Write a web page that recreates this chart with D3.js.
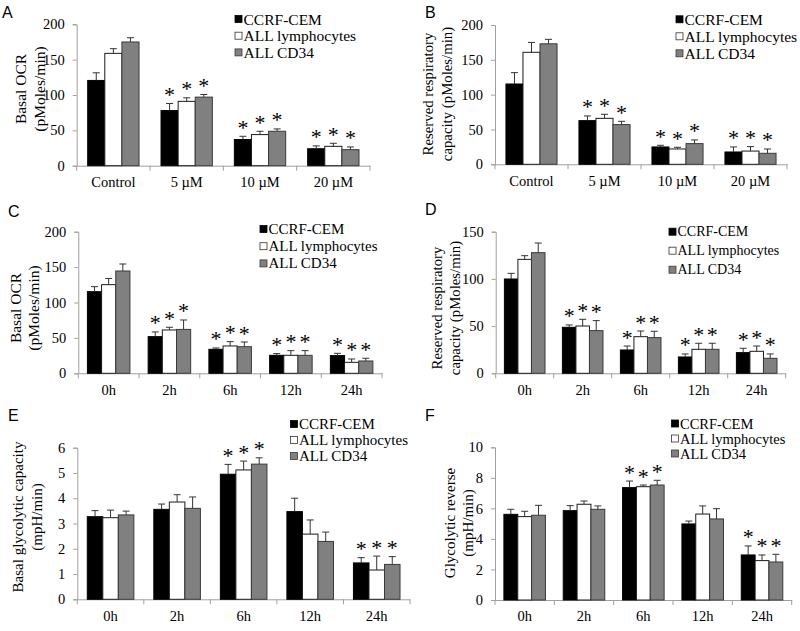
<!DOCTYPE html>
<html><head><meta charset="utf-8">
<script src="https://cdn.jsdelivr.net/npm/d3@7"></script>
<style>body{margin:0;background:#fff}svg{display:block}</style>
</head><body>
<svg id="c" width="800" height="631"></svg>
<script>
// ---------- data ----------
const seriesNames = ["CCRF-CEM", "ALL lymphocytes", "ALL CD34"];
const doseCats = ["Control", "5 \u00b5M", "10 \u00b5M", "20 \u00b5M"];
const timeCats = ["0h", "2h", "6h", "12h", "24h"];

// Panel A: Basal OCR vs dose
const aMean = [[120.6, 78, 37, 24], [158.9, 91, 44, 27.4], [175, 97, 48.7, 22.7]];
const aErr  = [[10.8, 10, 4.6, 4], [6.6, 5, 4.7, 4.3], [6, 3.7, 3.3, 3.8]];
const aStar = [[0, 1, 1, 1], [0, 1, 1, 1], [0, 1, 1, 1]];
// Panel B: Reserved respiratory capacity vs dose
const bMean = [[115.3, 62.7, 24.9, 17.7], [160.8, 66, 22, 19], [173, 57, 29.7, 15.8]];
const bErr  = [[16.3, 6.7, 2.4, 7.2], [14.2, 5.8, 2.4, 6.4], [6.4, 4.7, 5.3, 6.2]];
const bStar = [[0, 1, 1, 1], [0, 1, 1, 1], [0, 1, 1, 1]];
// Panel C: Basal OCR vs time
const cMean = [[115.3, 51.8, 33.9, 25.4, 25], [125.2, 61.2, 38.6, 25.4, 15.5], [144.5, 62, 37.6, 25.4, 17.4]];
const cErr  = [[7.1, 6.6, 1.9, 2.4, 3.2], [8.8, 3.8, 6.1, 6.6, 4.7], [9.9, 13.3, 6.6, 6.6, 3.8]];
const cStar = [[0, 1, 1, 1, 1], [0, 1, 1, 1, 1], [0, 1, 1, 1, 1]];
// Panel D: Reserved respiratory capacity vs time
const dMean = [[99.9, 48.7, 24.7, 17.3, 21.9], [120.7, 50.1, 38.8, 25.4, 23.3], [127.8, 45.2, 37.8, 25.4, 15.9]];
const dErr  = [[6, 2.5, 4.2, 3.2, 4.6], [3.9, 7.1, 6, 6.4, 5.6], [10.2, 10.6, 6.7, 6.4, 4.6]];
const dStar = [[0, 1, 1, 1, 1], [0, 1, 1, 1, 1], [0, 1, 1, 1, 1]];
// Panel E: Basal glycolytic capacity vs time
const eMean = [[3.27, 3.56, 4.95, 3.47, 1.44], [3.23, 3.85, 5.12, 2.58, 1.16], [3.34, 3.6, 5.35, 2.29, 1.38]];
const eErr  = [[0.24, 0.21, 0.39, 0.53, 0.21], [0.3, 0.29, 0.35, 0.56, 0.55], [0.15, 0.45, 0.25, 0.37, 0.31]];
const eStar = [[0, 0, 1, 0, 1], [0, 0, 1, 0, 1], [0, 0, 1, 0, 1]];
// Panel F: Glycolytic reverse vs time
const fMean = [[5.61, 5.85, 7.36, 4.98, 2.95], [5.46, 6.27, 7.42, 5.63, 2.58], [5.55, 5.94, 7.53, 5.31, 2.49]];
const fErr  = [[0.33, 0.33, 0.43, 0.19, 0.59], [0.35, 0.21, 0.11, 0.53, 0.37], [0.65, 0.22, 0.31, 0.67, 0.5]];
const fStar = [[0, 0, 1, 0, 1], [0, 0, 1, 0, 1], [0, 0, 1, 0, 1]];

const yTicksA = [0, 50, 100, 150, 200];
const yTicksD = [0, 50, 100, 150];
const yTicksE = [0, 1, 2, 3, 4, 5, 6];
const yTicksF = [0, 2, 4, 6, 8, 10];

// ---------- layout ----------
const panels = [
  {letter:"A", lx:2, ly:18, cats:doseCats, mean:aMean, err:aErr, star:aStar, ticks:yTicksA, max:200,
   x0:76.7, x1:370, y0:165.7, y1:24.3, title:["Basal OCR","(pMoles/min)"], tx:[20,39], ty:89, tfs:15.5,
   leg:{x:235, y:19, dy:16.7, fs:15.5}},
  {letter:"B", lx:425, ly:18, cats:doseCats, mean:bMean, err:bErr, star:bStar, ticks:yTicksA, max:200,
   x0:495, x1:787, y0:164.3, y1:25, title:["Reserved respiratory","capacity (pMoles/min)"], tx:[428,446.7], ty:94, tfs:14.8,
   leg:{x:676, y:19.3, dy:17, fs:15.5}},
  {letter:"C", lx:8, ly:217, cats:timeCats, mean:cMean, err:cErr, star:cStar, ticks:yTicksA, max:200,
   x0:78.3, x1:382, y0:373.3, y1:231.7, title:["Basal OCR","(pMoles/min)"], tx:[15,33.3], ty:308, tfs:15.5,
   leg:{x:260, y:229, dy:17.2, fs:15}},
  {letter:"D", lx:425, ly:215, cats:timeCats, mean:dMean, err:dErr, star:dStar, ticks:yTicksD, max:150,
   x0:495.7, x1:785.7, y0:373.3, y1:231.7, title:["Reserved respiratory","capacity (pMoles/min)"], tx:[436.7,455], ty:308, tfs:14.8,
   leg:{x:669, y:231.7, dy:19, fs:14}},
  {letter:"E", lx:8, ly:421, cats:timeCats, mean:eMean, err:eErr, star:eStar, ticks:yTicksE, max:6,
   x0:77.3, x1:410, y0:599.3, y1:447.7, title:["Basal glycolytic capacity","(mpH/min)"], tx:[18.3,36.7], ty:517, tfs:15,
   leg:{x:290.5, y:424, dy:16, fs:15}},
  {letter:"F", lx:425, ly:421, cats:timeCats, mean:fMean, err:fErr, star:fStar, ticks:yTicksF, max:10,
   x0:495, x1:791.7, y0:600, y1:447.3, title:["Glycolytic reverse","(mpH/min)"], tx:[450,468.3], ty:523, tfs:15,
   leg:{x:671.5, y:423.5, dy:15, fs:14.5}}
];

const fills = ["#000000", "#ffffff", "#808080"];
const strokes = ["#000000", "#1a1a1a", "#3a3a3a"];
const axisColor = "#a0a0a0";
const serif = "'Liberation Serif','Times New Roman',serif";
const sans = "'Liberation Sans',Arial,sans-serif";

const svg = d3.select("#c");

panels.forEach(p => {
  const g = svg.append("g");
  const x = d3.scaleBand().domain(p.cats).range([p.x0, p.x1]).paddingInner(0.3).paddingOuter(0.15);
  const xs = d3.scaleBand().domain(d3.range(3)).range([0, x.bandwidth()]);
  const y = d3.scaleLinear().domain([0, p.max]).range([p.y0, p.y1]);

  // panel letter
  g.append("text").attr("x", p.lx).attr("y", p.ly).text(p.letter)
    .attr("font-family", sans).attr("font-size", 16).attr("fill", "#000");

  // y axis
  const ya = g.append("g").attr("transform", `translate(${p.x0},0)`)
    .call(d3.axisLeft(y).tickValues(p.ticks).tickSize(4).tickPadding(8).tickFormat(d3.format("d")));
  ya.select(".domain").attr("stroke", axisColor);
  ya.selectAll(".tick line").attr("stroke", axisColor);
  ya.selectAll(".tick text").attr("font-family", serif).attr("font-size", 14.5).attr("fill", "#000");

  // x axis: line + boundary ticks + labels
  const xa = g.append("g").attr("transform", `translate(0,${p.y0})`)
    .call(d3.axisBottom(x).tickSize(0).tickPadding(11));
  xa.select(".domain").attr("stroke", axisColor);
  xa.selectAll(".tick text").attr("font-family", serif).attr("font-size", 14.5).attr("fill", "#000");
  const bounds = p.cats.map(c => x(c) - x.step() * x.paddingInner() / 2);
  bounds.push(p.x1);
  xa.selectAll("line.bt").data(bounds).join("line").attr("class", "bt")
    .attr("x1", d => d).attr("x2", d => d).attr("y1", 0).attr("y2", 5).attr("stroke", axisColor);

  // bars
  for (let s = 0; s < 3; s++) {
    const bg = g.append("g");
    p.cats.forEach((c, i) => {
      const v = p.mean[s][i], e = p.err[s][i];
      const bx = x(c) + xs(s), bw = xs.bandwidth();
      const cx = bx + bw / 2;
      bg.append("rect").attr("x", bx).attr("y", y(v)).attr("width", bw).attr("height", y(0) - y(v))
        .attr("fill", fills[s]).attr("stroke", strokes[s]).attr("stroke-width", 1);
      bg.append("line").attr("x1", cx).attr("x2", cx).attr("y1", y(v)).attr("y2", y(v + e))
        .attr("stroke", "#333").attr("stroke-width", 1);
      bg.append("line").attr("x1", cx - 3.5).attr("x2", cx + 3.5).attr("y1", y(v + e)).attr("y2", y(v + e))
        .attr("stroke", "#333").attr("stroke-width", 1);
      if (p.star[s][i]) {
        bg.append("text").attr("x", cx).attr("y", y(v + e) - 1.5).attr("text-anchor", "middle")
          .attr("font-family", serif).attr("font-size", 22).attr("fill", "#000").text("*");
      }
    });
  }

  // y title
  p.title.forEach((t, k) => {
    g.append("text").attr("transform", `translate(${p.tx[k]},${p.ty}) rotate(-90)`)
      .attr("text-anchor", "middle").attr("dominant-baseline", "central")
      .attr("font-family", serif).attr("font-size", p.tfs).attr("fill", "#000").text(t);
  });

  // legend
  const lg = g.append("g");
  seriesNames.forEach((n, k) => {
    const cy = p.leg.y + k * p.leg.dy;
    lg.append("rect").attr("x", p.leg.x).attr("y", cy - 3.5).attr("width", 7).attr("height", 7)
      .attr("fill", fills[k]).attr("stroke", k === 1 ? "#333" : strokes[k]).attr("stroke-width", 0.8);
    lg.append("text").attr("x", p.leg.x + 8.5).attr("y", cy).attr("dominant-baseline", "central")
      .attr("font-family", serif).attr("font-size", p.leg.fs).attr("fill", "#000").text(n);
  });
});
</script>
</body></html>
